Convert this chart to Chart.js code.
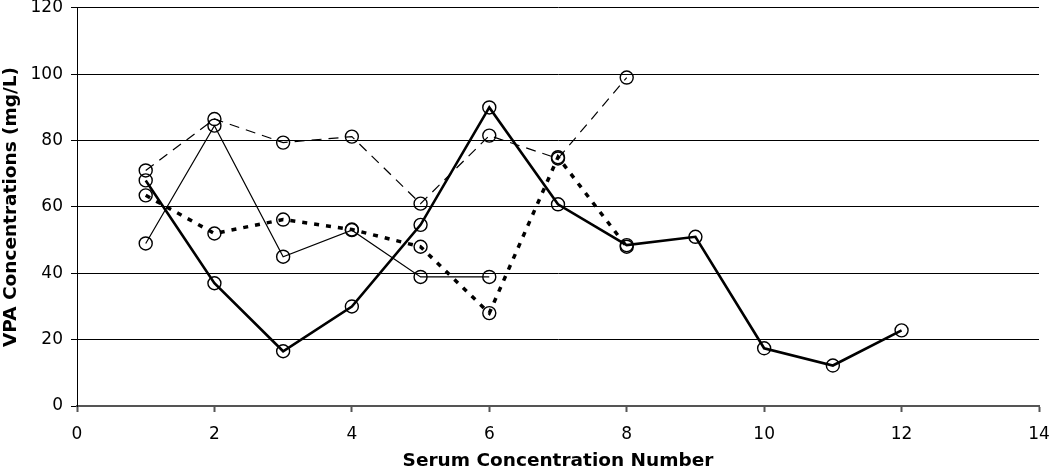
<!DOCTYPE html>
<html>
<head>
<meta charset="utf-8">
<script src="https://cdn.jsdelivr.net/npm/chart.js@4.4.0/dist/chart.umd.min.js"></script>
<style>
html,body{margin:0;padding:0;background:#fff;}
#wrap{width:1050px;height:472px;position:relative;}
</style>
</head>
<body>
<div id="wrap"><canvas id="c" width="1050" height="472"></canvas></div>
<script>
const xTickValues = [0, 2, 4, 6, 8, 10, 12, 14];
const yTickValues = [0, 20, 40, 60, 80, 100, 120];

const thickSolidX = [1, 2, 3, 4, 5, 6, 7, 8, 9, 10, 11, 12];
const thickSolidY = [68, 37, 16.5, 30, 54.6, 90, 60.8, 48.5, 51, 17.4, 12.2, 22.8];

const thinDashedX = [1, 2, 3, 4, 5, 6, 7, 8];
const thinDashedY = [71, 86.5, 79.4, 81.2, 61, 81.5, 74.6, 99];

const thinSolidX = [1, 2, 3, 4, 5, 6];
const thinSolidY = [49, 84.5, 45, 53, 38.9, 38.9];

const thickDottedX = [1, 2, 3, 4, 5, 6, 7, 8];
const thickDottedY = [63.5, 52, 56.2, 53.2, 48, 28, 75, 48];

function pts(xs, ys){ return xs.map((x,i)=>({x:x, y:ys[i]})); }

function ds(xs, ys, width, dash){
  return {
    data: pts(xs, ys),
    showLine: true,
    borderColor: '#000',
    borderWidth: width,
    borderDash: dash,
    pointRadius: 6.5,
    pointHoverRadius: 6.5,
    pointBorderWidth: 1.4,
    pointBorderColor: '#000',
    pointBackgroundColor: 'rgba(0,0,0,0)',
    tension: 0,
    fill: false
  };
}

const font = {family: '"DejaVu Sans", Verdana, sans-serif', size: 17};
const titleFont = {family: '"DejaVu Sans", Verdana, sans-serif', size: 18.5, weight: 'bold'};

new Chart(document.getElementById('c'), {
  type: 'scatter',
  data: {
    datasets: [
      ds(thinDashedX, thinDashedY, 1.2, [10, 7]),
      ds(thinSolidX, thinSolidY, 1.2, []),
      ds(thickDottedX, thickDottedY, 3.5, [5, 7]),
      ds(thickSolidX, thickSolidY, 2.6, [])
    ]
  },
  options: {
    responsive: false,
    animation: false,
    events: [],
    layout: {padding: {left: 0, right: 0, top: 0, bottom: 0}},
    plugins: {legend: {display: false}, tooltip: {enabled: false}},
    scales: {
      x: {
        type: 'linear',
        min: 0, max: 14,
        afterBuildTicks: (s) => { s.ticks = xTickValues.map(v => ({value: v})); },
        afterFit: (s) => { s.height = 66; s.paddingRight = 11; s.paddingLeft = 0; },
        ticks: {color: '#000', font: font, padding: 12, maxRotation: 0},
        grid: {drawOnChartArea: false, drawTicks: true, tickLength: 6, tickColor: '#555', tickWidth: 2},
        border: {display: true, color: '#555', width: 2},
        title: {display: true, text: 'Serum Concentration Number', color: '#000', font: titleFont, padding: {top: 2, bottom: 0}}
      },
      y: {
        type: 'linear',
        min: 0, max: 120,
        afterBuildTicks: (s) => { s.ticks = yTickValues.map(v => ({value: v})); },
        afterFit: (s) => { s.width = 77; s.paddingTop = 7; s.paddingBottom = 0; },
        ticks: {color: '#000', font: font, padding: 8},
        grid: {color: '#000', lineWidth: 1, drawTicks: true, tickLength: 6, tickColor: '#000'},
        border: {display: true, color: '#000', width: 1},
        title: {display: true, text: 'VPA Concentrations (mg/L)', color: '#000', font: titleFont, padding: {top: 0, bottom: 4}}
      }
    }
  }
});
</script>
</body>
</html>
